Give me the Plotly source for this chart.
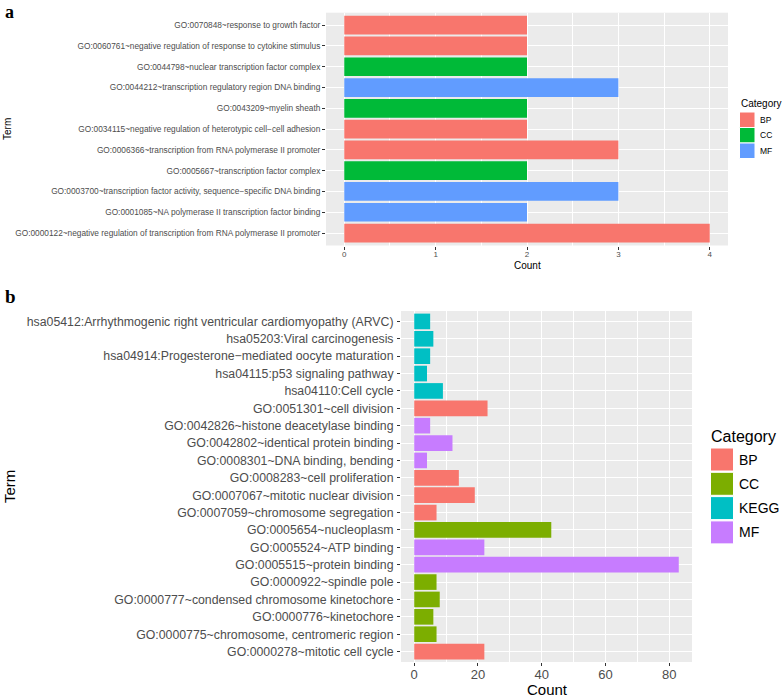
import plotly.graph_objects as go

# ---------------- Panel a data (top to bottom) ----------------
terms_a = [
    "GO:0070848~response to growth factor",
    "GO:0060761~negative regulation of response to cytokine stimulus",
    "GO:0044798~nuclear transcription factor complex",
    "GO:0044212~transcription regulatory region DNA binding",
    "GO:0043209~myelin sheath",
    "GO:0034115~negative regulation of heterotypic cell\u2212cell adhesion",
    "GO:0006366~transcription from RNA polymerase II promoter",
    "GO:0005667~transcription factor complex",
    "GO:0003700~transcription factor activity, sequence\u2212specific DNA binding",
    "GO:0001085~NA polymerase II transcription factor binding",
    "GO:0000122~negative regulation of transcription from RNA polymerase II promoter",
]
count_a = [2, 2, 2, 3, 2, 2, 3, 2, 3, 2, 4]
cat_a = ["BP", "BP", "CC", "MF", "CC", "BP", "BP", "CC", "MF", "MF", "BP"]
cats_a = ["BP", "CC", "MF"]
colors_a = {"BP": "#F8766D", "CC": "#00BA38", "MF": "#619CFF"}

# ---------------- Panel b data (top to bottom) ----------------
terms_b = [
    "hsa05412:Arrhythmogenic right ventricular cardiomyopathy (ARVC)",
    "hsa05203:Viral carcinogenesis",
    "hsa04914:Progesterone\u2212mediated oocyte maturation",
    "hsa04115:p53 signaling pathway",
    "hsa04110:Cell cycle",
    "GO:0051301~cell division",
    "GO:0042826~histone deacetylase binding",
    "GO:0042802~identical protein binding",
    "GO:0008301~DNA binding, bending",
    "GO:0008283~cell proliferation",
    "GO:0007067~mitotic nuclear division",
    "GO:0007059~chromosome segregation",
    "GO:0005654~nucleoplasm",
    "GO:0005524~ATP binding",
    "GO:0005515~protein binding",
    "GO:0000922~spindle pole",
    "GO:0000777~condensed chromosome kinetochore",
    "GO:0000776~kinetochore",
    "GO:0000775~chromosome, centromeric region",
    "GO:0000278~mitotic cell cycle",
]
count_b = [5, 6, 5, 4, 9, 23, 5, 12, 4, 14, 19, 7, 43, 22, 83, 7, 8, 6, 7, 22]
cat_b = ["KEGG", "KEGG", "KEGG", "KEGG", "KEGG", "BP", "MF", "MF", "MF", "BP",
         "BP", "BP", "CC", "MF", "MF", "CC", "CC", "CC", "CC", "BP"]
cats_b = ["BP", "CC", "KEGG", "MF"]
colors_b = {"BP": "#F8766D", "CC": "#7CAE00", "KEGG": "#00BFC4", "MF": "#C77CFF"}

W, H = 784, 698
FONT = "Liberation Sans, Arial, sans-serif"
SERIF = "Liberation Serif, Times New Roman, serif"

fig = go.Figure()

for c in cats_a:
    ys = [t for t, k in zip(terms_a, cat_a) if k == c]
    xs = [v for v, k in zip(count_a, cat_a) if k == c]
    fig.add_trace(go.Bar(x=xs, y=ys, orientation="h", name=c, width=0.9,
                         marker=dict(color=colors_a[c], line=dict(width=0)),
                         xaxis="x", yaxis="y", showlegend=False))

for c in cats_b:
    ys = [t for t, k in zip(terms_b, cat_b) if k == c]
    xs = [v for v, k in zip(count_b, cat_b) if k == c]
    fig.add_trace(go.Bar(x=xs, y=ys, orientation="h", name=c, width=0.9,
                         marker=dict(color=colors_b[c], line=dict(width=0)),
                         xaxis="x2", yaxis="y2", showlegend=False))


def px_x(p):
    return p / W


def px_y(p):
    return 1 - p / H


shapes = []
annotations = []


def add_text(text, x, y, size, xanchor="left", yanchor="middle", angle=0,
             color="#000000", family=FONT):
    annotations.append(dict(text=text, x=px_x(x), y=px_y(y), xref="paper", yref="paper",
                            xanchor=xanchor, yanchor=yanchor, showarrow=False,
                            textangle=angle, font=dict(size=size, color=color, family=family)))


def add_legend(cats, colors, title_x, title_y, title_size, key_x, key_y0, key_size, step,
               label_size):
    add_text("Category", title_x, title_y, title_size)
    for i, c in enumerate(cats):
        y0 = key_y0 + i * step
        shapes.append(dict(type="rect", xref="paper", yref="paper",
                           x0=px_x(key_x), x1=px_x(key_x + key_size),
                           y0=px_y(y0 + key_size), y1=px_y(y0),
                           fillcolor=colors[c], line=dict(color="white", width=1)))
        add_text(c, key_x + key_size + 3, y0 + key_size / 2, label_size)


# legends (drawn as keys + labels, like ggplot's guide)
add_legend(cats_a, colors_a, 739, 103, 10, 739.5, 112, 15.5, 15.5, 8.5)
add_legend(cats_b, colors_b, 709, 436, 16, 710.5, 448, 23, 24.3, 14)

# panel tags
add_text("<b>a</b>", 3, 0, 18, yanchor="top", family=SERIF)
add_text("<b>b</b>", 3, 297, 19, family=SERIF)
# axis titles
add_text("Term", 8, 129, 10, xanchor="center", angle=-90)
add_text("Term", 9, 487, 15, xanchor="center", angle=-90)
add_text("Count", 527, 265, 10, xanchor="center")
add_text("Count", 547, 689, 15, xanchor="center")

fig.update_layout(
    width=W, height=H,
    margin=dict(l=0, r=0, t=0, b=0),
    paper_bgcolor="white",
    plot_bgcolor="#EBEBEB",
    barmode="overlay",
    showlegend=False,
    font=dict(family=FONT, color="#000000"),
    xaxis=dict(domain=[px_x(326), px_x(728)], anchor="y", range=[-0.2, 4.2],
               tickvals=[0, 1, 2, 3, 4], showgrid=True, gridcolor="white", gridwidth=1.1,
               minor=dict(showgrid=True, gridcolor="white", gridwidth=0.5, dtick=0.5, tick0=0.5),
               zeroline=False, ticks="outside", ticklen=3, tickcolor="#333333",
               automargin=False, ticklabelstandoff=-2,
               tickfont=dict(size=8, color="#4D4D4D", family=FONT)),
    yaxis=dict(domain=[px_y(245.5), px_y(12.7)], anchor="x", type="category",
               categoryorder="array", categoryarray=terms_a,
               range=[len(terms_a) - 0.4, -0.6], automargin=False,
               showgrid=True, gridcolor="white", gridwidth=1.1, zeroline=False,
               ticks="outside", ticklen=3, tickcolor="#333333",
               tickfont=dict(size=8.3, color="#4D4D4D", family=FONT)),
    xaxis2=dict(domain=[px_x(401), px_x(692)], anchor="y2", range=[-4.15, 87.15],
                tickvals=[0, 20, 40, 60, 80], showgrid=True, gridcolor="white", gridwidth=1.2,
                minor=dict(showgrid=True, gridcolor="white", gridwidth=0.6, dtick=20, tick0=10),
                zeroline=False, ticks="outside", ticklen=3, tickcolor="#333333",
                automargin=False, ticklabelstandoff=-3,
                tickfont=dict(size=13, color="#4D4D4D", family=FONT)),
    yaxis2=dict(domain=[px_y(662), px_y(311)], anchor="x2", type="category",
                categoryorder="array", categoryarray=terms_b,
                range=[len(terms_b) - 0.4, -0.6], automargin=False,
                showgrid=True, gridcolor="white", gridwidth=1.2, zeroline=False,
                ticks="outside", ticklen=3, tickcolor="#333333", ticklabelstandoff=1,
                tickfont=dict(size=12.3, color="#4D4D4D", family=FONT)),
    shapes=shapes,
    annotations=annotations,
)

fig.write_html(
    "out.html",
    config={"displayModeBar": False},
    post_script="document.body.style.margin='0';document.body.style.padding='0';"
                "document.body.style.overflow='hidden';",
)
